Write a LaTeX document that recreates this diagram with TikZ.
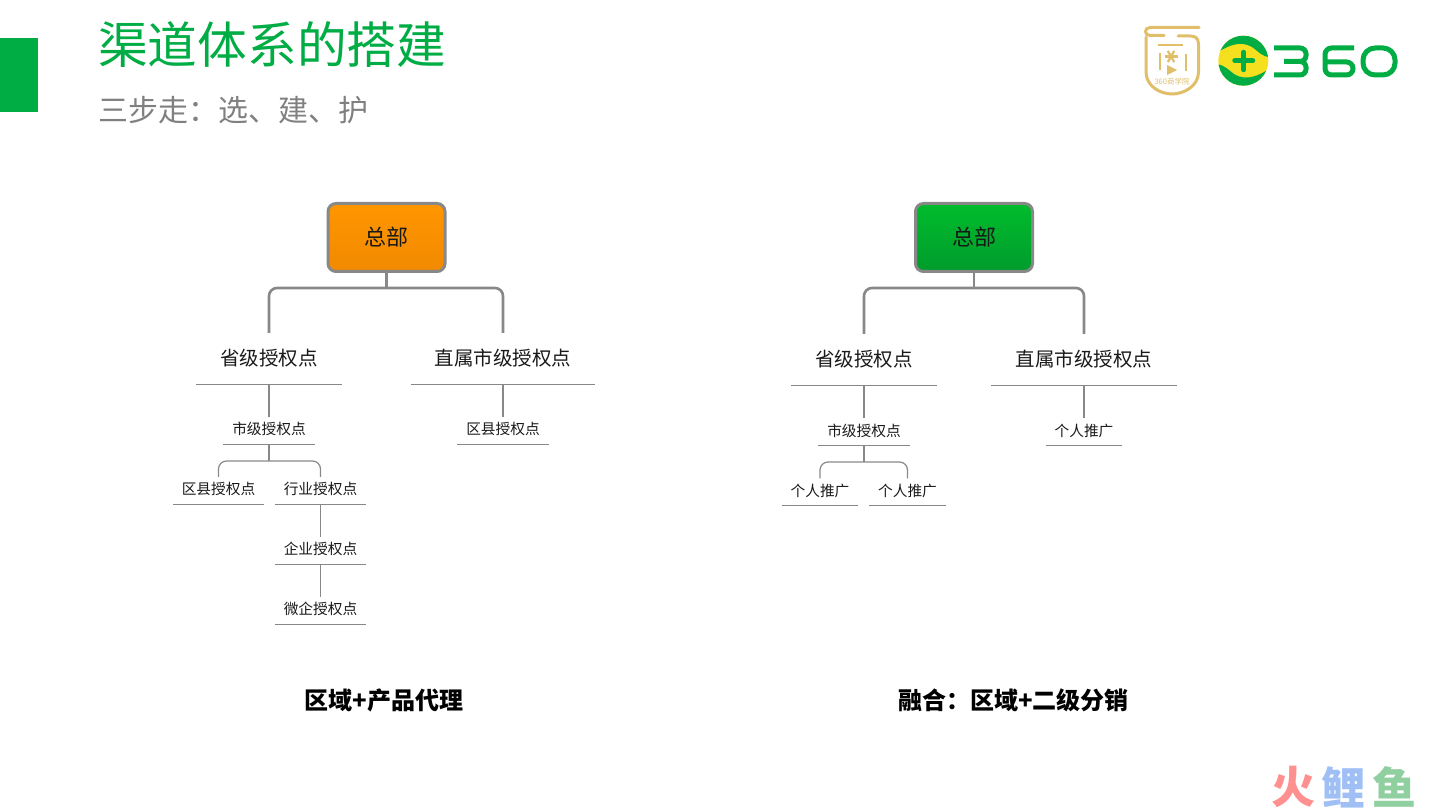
\documentclass[tikz,border=0pt]{standalone}
\usepackage{fontspec}
\setmainfont{Noto Sans CJK SC}
\definecolor{brandgreen}{HTML}{00AD45}
\definecolor{shieldgold}{HTML}{E0BE6A}
\definecolor{linegray}{HTML}{888888}
\definecolor{orangetop}{HTML}{FF9500}
\definecolor{orangelow}{HTML}{F28A00}
\definecolor{greentop}{HTML}{00BC2C}
\definecolor{greenlow}{HTML}{009C2C}
\definecolor{ballyellow}{HTML}{F5E020}
\definecolor{markred}{HTML}{FF9090}
\definecolor{markblue}{HTML}{A0C0F5}
\definecolor{markgreen}{HTML}{90D0A0}
\begin{document}
\begin{tikzpicture}[x=1pt, y=-1pt,
    hqbox/.style={draw=linegray, line width=3pt, rounded corners=8pt, minimum width=117pt,
                  minimum height=68pt, font=\fontsize{22}{22}\selectfont, text=black!90},
    bigpoint/.style={minimum height=51pt, inner sep=0pt, font=\fontsize{19.5}{20}\selectfont, text=black!90},
    smallpoint/.style={minimum height=30pt, inner sep=0pt, font=\fontsize{14.7}{15}\selectfont, text=black!90},
    trunk/.style={draw=linegray, line width=2.6pt},
    branch/.style={draw=linegray, line width=1.2pt},
    rulebar/.style={draw=linegray, line width=1.1pt},
    caption/.style={font=\bfseries\fontsize{24}{24}\selectfont, text=black},
    marktext/.style={inner sep=0pt, font=\bfseries\fontsize{44}{44}\selectfont}]
  \useasboundingbox (0,0) rectangle (1440,810);
  \fill[brandgreen] (0,38) rectangle (38,112);
  \node[anchor=west, inner sep=0pt, text=brandgreen, font=\fontsize{49.7}{50}\selectfont] (title) at (98,44.5) {渠道体系的搭建};
  \node[anchor=west, inner sep=0pt, text=black!50, font=\fontsize{30}{30}\selectfont] (subtitle) at (98,110) {三步走\char"FF1A 选、建、护};

  \node[hqbox, top color=orangetop, bottom color=orangelow] (hqa) at (386.5,237.5) {总部};
  \node[bigpoint, minimum width=145pt] (prova) at (269,358.5) {省级授权点};
  \node[bigpoint, minimum width=184pt] (directa) at (503,358.5) {直属市级授权点};
  \node[smallpoint, minimum width=91pt] (citya) at (269,429) {市级授权点};
  \node[smallpoint, minimum width=91pt] (countyb) at (503,429) {区县授权点};
  \node[smallpoint, minimum width=91pt] (countya) at (218.5,489) {区县授权点};
  \node[smallpoint, minimum width=91pt] (trade) at (320.5,489) {行业授权点};
  \node[smallpoint, minimum width=91pt] (firm) at (320.5,549) {企业授权点};
  \node[smallpoint, minimum width=91pt] (microfirm) at (320.5,609) {微企授权点};
  \coordinate (joina) at (386.5,288);
  \coordinate (forka) at (269,461);

  \node[hqbox, top color=greentop, bottom color=greenlow] (hqb) at (974,237.5) {总部};
  \node[bigpoint, minimum width=145pt] (provb) at (864,359.5) {省级授权点};
  \node[bigpoint, minimum width=185pt] (directb) at (1084,359.5) {直属市级授权点};
  \node[smallpoint, minimum width=91pt] (cityb) at (864,430.5) {市级授权点};
  \node[smallpoint, minimum width=76pt] (agentc) at (1084,430.5) {个人推广};
  \node[smallpoint, minimum width=76pt] (agenta) at (820,490.5) {个人推广};
  \node[smallpoint, minimum width=76pt] (agentb) at (907.5,490.5) {个人推广};
  \coordinate (joinb) at (974,288);
  \coordinate (forkb) at (864,462);

  \draw[trunk] (hqa.south) -- (joina);
  \draw[trunk, rounded corners=8pt] (prova.north) |- (joina) -| (directa.north);
  \draw[trunk] (hqb.south) -- (joinb);
  \draw[trunk, rounded corners=8pt] (provb.north) |- (joinb) -| (directb.north);

  \foreach \up/\down in {prova/citya, directa/countyb, trade/firm, firm/microfirm, provb/cityb, directb/agentc}
    \draw[branch, shorten >=-3pt] (\up.south) -- (\down.north);
  \draw[branch] (citya.south) -- (forka);
  \draw[branch] (cityb.south) -- (forkb);
  \draw[branch, rounded corners=8pt, shorten <=-3pt, shorten >=-3pt] (countya.north) |- (forka) -| (trade.north);
  \draw[branch, rounded corners=8pt, shorten <=-3pt, shorten >=-3pt] (agenta.north) |- (forkb) -| (agentb.north);

  \foreach \n in {prova, directa, citya, countyb, countya, trade, firm, microfirm,
                  provb, directb, cityb, agentc, agenta, agentb}
    \draw[rulebar] (\n.south west) -- (\n.south east);

  \node[caption] (captiona) at (384,700) {区域+产品代理};
  \node[caption] (captionb) at (1013.5,700) {融合\char"FF1A 区域+二级分销};

  \draw[shieldgold, line width=3pt, line cap=round]
    (1199,27.5) -- (1150,27.5) .. controls (1144,27.5) and (1144,35.5) .. (1150,35.5) -- (1164,35.5);
  \draw[shieldgold, line width=3pt, line cap=round]
    (1146,37) -- (1146,72) .. controls (1146,86) and (1160,94) .. (1172,94)
    .. controls (1184,94) and (1198.5,86) .. (1198.5,72) -- (1198.5,44)
    .. controls (1198.5,38) and (1195,36) .. (1190,36) -- (1178,36);
  \draw[shieldgold, line width=2.4pt] (1158,45) -- (1183,45) (1160,53) -- (1160,70) (1186,54) -- (1186,71);
  \foreach \a in {0,60,120}
    \draw[shieldgold, line width=2.2pt] (1171,56.5) ++(\a:6.5) -- ++(\a+180:13);
  \fill[shieldgold] (1167,65) -- (1167,75) -- (1177,70) -- cycle;
  \node[text=shieldgold, inner sep=0pt, font=\fontsize{7.5}{8}\selectfont] (school) at (1172,81.5) {360商学院};

  \fill[ballyellow] (1243.3,60.7) circle[radius=25];
  \begin{scope}
    \clip (1243.3,60.7) circle[radius=25];
    \fill[brandgreen] (1218,52) .. controls (1228,46) and (1240,40) .. (1252,47)
      .. controls (1258,51) and (1262,57) .. (1270,57) -- (1270,30) -- (1215,30) -- cycle;
    \fill[brandgreen] (1268.6,69.4) .. controls (1258.6,75.4) and (1246.6,81.4) .. (1234.6,74.4)
      .. controls (1228.6,70.4) and (1224.6,64.4) .. (1216.6,64.4) -- (1216.6,91.4) -- (1271.6,91.4) -- cycle;
  \end{scope}
  \draw[brandgreen, line width=5.5pt, line cap=round] (1235,60.7) -- (1252.5,60.7) (1243.7,52.5) -- (1243.7,69.5);
  \draw[brandgreen, line width=5pt, rounded corners=6pt]
    (1274,48) -- (1306,48) -- (1306,61.5) -- (1284,61.5) (1295,61.5) -- (1306,61.5) -- (1306,75) -- (1274,75);
  \draw[brandgreen, line width=5pt, rounded corners=6.5pt]
    (1354,48) -- (1325,48) -- (1325,75) -- (1353,75) -- (1353,62) -- (1325,62);
  \draw[brandgreen, line width=5pt, rounded corners=12pt] (1363,48) rectangle (1395,75);

  \node[marktext, text=markred] (fire) at (1293,787) {火};
  \node[marktext, text=markblue] (carp) at (1343,787) {鲤};
  \node[marktext, text=markgreen] (fish) at (1394,787) {鱼};
\end{tikzpicture}
\end{document}
